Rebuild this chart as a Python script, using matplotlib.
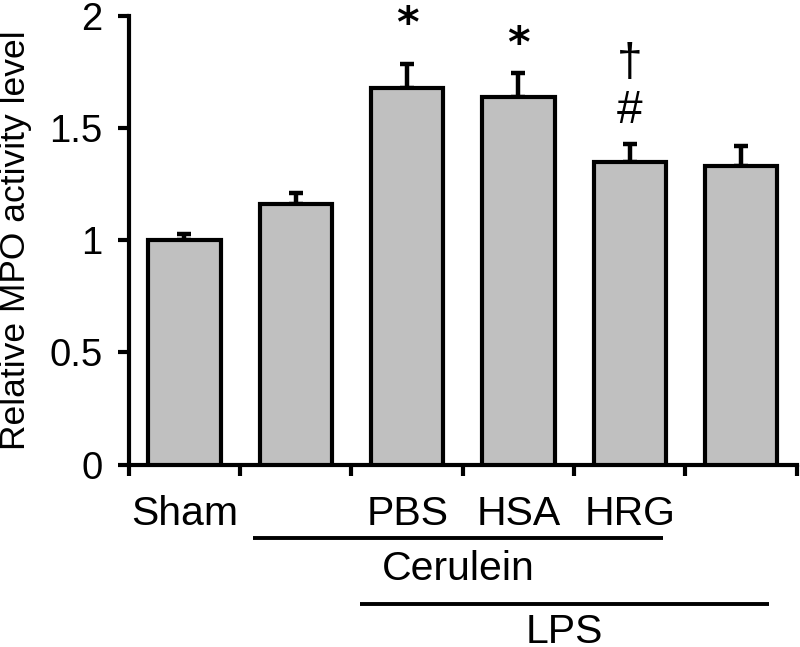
import matplotlib
matplotlib.use("Agg")
import matplotlib.pyplot as plt
from matplotlib.transforms import blended_transform_factory

plt.rcParams['font.family'] = ['Liberation Sans', 'DejaVu Sans']

# Data
groups = ["Sham", "Cerulein", "PBS", "HSA", "HRG", "LPS only"]
values = [1.00, 1.16, 1.68, 1.64, 1.35, 1.33]
errors = [0.03, 0.05, 0.105, 0.105, 0.08, 0.09]
xlabels = ["Sham", "", "PBS", "HSA", "HRG", ""]
yticks = [0, 0.5, 1, 1.5, 2]
yticklabels = ["0", "0.5", "1", "1.5", "2"]
# significance marks: (bar index, symbol, y position, vertical anchor)
marks = [(2, "*", 1.962, "center"), (3, "*", 1.872, "center"),
         (4, "#", 1.675, "top"), (4, "\u2020", 1.69, "bottom")]
# group lines: (label, start x, end x)
group_lines = [("Cerulein", 0.62, 4.30), ("LPS", 1.575, 5.25)]

fig = plt.figure(figsize=(8.0, 6.47), dpi=100)
ax = fig.add_axes([0.161, 0.282, 0.835, 0.693])

x = list(range(len(values)))
ax.bar(x, values, width=0.65, color="#c0c0c0", edgecolor="black", linewidth=3.0, zorder=3)
ax.errorbar(x, values, yerr=[[0]*len(errors), errors], fmt="none", ecolor="black",
            elinewidth=3.2, capsize=4.7, capthick=3.2, zorder=2)

ax.set_xlim(-0.5, 5.5)
ax.set_ylim(0, 2)
ax.set_yticks(yticks)
ax.set_yticklabels(yticklabels, fontsize=27.5)
ax.set_xticks([i - 0.5 for i in range(len(values) + 1)])
ax.set_xticklabels([])
for s in ["top", "right"]:
    ax.spines[s].set_visible(False)
for s in ["left", "bottom"]:
    ax.spines[s].set_linewidth(3.0)
ax.tick_params(axis="both", direction="out", length=8, width=3.0, pad=11)

ax.set_ylabel("Relative MPO activity level", fontsize=25.5)
ax.yaxis.set_label_coords(-0.145, 0.5)

tr = blended_transform_factory(ax.transData, ax.transAxes)
for i, lab in enumerate(xlabels):
    if lab:
        ax.text(i, -0.135, lab, transform=tr, ha="center", va="baseline", fontsize=29.5)

line_y = [-0.163, -0.311]
text_y = [-0.2575, -0.397]
for (lab, x0, x1), ly, ty in zip(group_lines, line_y, text_y):
    ax.plot([x0, x1], [ly, ly], color="black", linewidth=2.8, transform=tr, clip_on=False,
            solid_capstyle="butt")
    ax.text((x0 + x1) / 2, ty, lab, transform=tr, ha="center", va="baseline", fontsize=29.5)

for i, sym, yv, va in marks:
    if sym == "*":
        ax.text(i, yv, sym, ha="center", va=va, fontsize=31, family="DejaVu Sans",
                weight="bold", clip_on=False)
    else:
        ax.text(i, yv, sym, ha="center", va=va, fontsize=33, clip_on=False)

fig.savefig("out.png", dpi=100)
